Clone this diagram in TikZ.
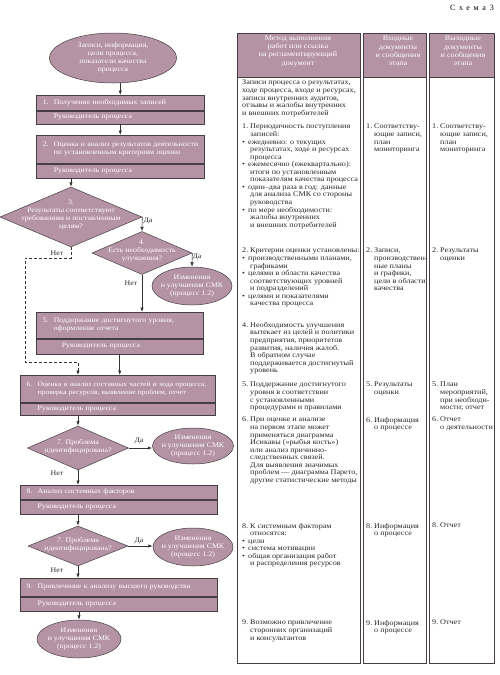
\documentclass[tikz,border=0pt]{standalone}
\usepackage{fontspec}
\setmainfont{Liberation Serif}[FakeStretch=1.12]
\newfontfamily\tabfont{Liberation Serif}[FakeStretch=1.13]
\newfontfamily\schemefont{Liberation Serif}[LetterSpace=45]
\usetikzlibrary{arrows.meta,shapes.geometric}
\definecolor{mauve}{RGB}{179,147,164}
\definecolor{edge}{RGB}{70,62,68}
\newcommand{\nr}[1]{\makebox[8pt][l]{#1}}
\newcommand{\sn}[1]{\hspace*{4.5pt}\makebox[11pt][l]{#1}}
\newcommand{\hg}{\hspace*{8pt}}
\newcommand{\bl}{\makebox[6pt][l]{\textbullet}}
\tikzset{
	every node/.style={font=\fontsize{7}{7.9}\selectfont,inner sep=0pt},
	stage/.style={draw=edge,fill=mauve,text=white,align=left,anchor=north west,inner xsep=2pt,line width=.5pt},
	oval/.style={draw=edge,fill=mauve,text=white,ellipse,align=center,inner xsep=-6pt,line width=.5pt},
	decision/.style={draw=edge,fill=mauve,diamond,line width=.5pt},
	query/.style={text=white,align=center},
	answer/.style={text=black!85},
	headtext/.style={text=white,align=center,font=\tabfont\fontsize{7.2}{8.3}\selectfont},
	note/.style={align=left,anchor=north west,text=black!85,font=\tabfont\fontsize{7.2}{7.55}\selectfont},
	cell/.style={draw=edge,line width=.5pt},
	flow/.style={draw=black!80,line width=.6pt,-{Latex[length=4.5pt,width=3.4pt]}},
}
\begin{document}
\begin{tikzpicture}[x=1pt,y=-1pt]
	\useasboundingbox (0,0) rectangle (500,675);
	\node[anchor=base east,font=\schemefont\fontsize{8}{9}\selectfont] (title) at (494,10) {Схема\enspace 3};
	% flowchart
	\node[oval,inner xsep=0pt,minimum width=127,minimum height=50] (inp) at (113,58) {Записи, информация,\\цели процесса,\\показатели качества\\процесса};
	\node[stage,text width=164,minimum height=15] (s1) at (36,95) {\sn{1.}Получение необходимых записей};
	\node[stage,text width=164,minimum height=13] (r1) at (s1.south west) {\sn{}Руководитель процесса};
	\node[stage,text width=164,minimum height=28] (s2) at (36,135) {\sn{2.}Оценка и анализ результатов деятельности\\\sn{}по установленным критериям оценки};
	\node[stage,text width=164,minimum height=14] (r2) at (s2.south west) {\sn{}Руководитель процесса};
	\node[decision,minimum width=142,minimum height=60] (d3) at (71,217) {};
	\node[query] (q3) at (71,215) {3.\\Результаты соответствуют\\требованиям и поставленным\\целям?};
	\node[decision,minimum width=100,minimum height=43] (d4) at (142,253) {};
	\node[query] (q4) at (142,251) {4.\\Есть необходимость\\улучшения?};
	\node[oval,minimum width=80,minimum height=38] (cmk4) at (192,286) {Изменения\\и улучшения СМК\\(процесс 1.2)};
	\node[stage,text width=163,minimum height=26] (s5) at (36,312) {\sn{5.}Поддержание достигнутого уровня,\\\sn{}оформление отчета};
	\node[stage,text width=163,minimum height=15] (r5) at (s5.south west) {\sn{}\hspace*{8pt}Руководитель процесса};
	\node[stage,text width=191,minimum height=27,font=\fontsize{6.7}{7.9}\selectfont] (s6) at (20,375) {\sn{6.}\mbox{Оценка и анализ составных частей и хода процесса,}\\\sn{}проверка ресурсов, выявление проблем, отчет};
	\node[stage,text width=191,minimum height=12] (r6) at (s6.south west) {\sn{}Руководитель процесса};
	\node[decision,minimum width=101,minimum height=44] (d7) at (78,448) {};
	\node[query] (q7) at (78,447) {7. Проблема\\идентифицирована?};
	\node[oval,minimum width=81,minimum height=36] (cmk7) at (193,446) {Изменения\\и улучшения СМК\\(процесс 1.2)};
	\node[stage,text width=193,minimum height=14] (s8) at (20,485) {\sn{8.}Анализ системных факторов};
	\node[stage,text width=193,minimum height=14] (r8) at (s8.south west) {\sn{}Руководитель процесса};
	\node[decision,minimum width=100,minimum height=40] (d8) at (78,546) {};
	\node[query] (q8) at (78,545) {7. Проблема\\идентифицирована?};
	\node[oval,minimum width=80,minimum height=38] (cmk8) at (193,547) {Изменения\\и улучшения СМК\\(процесс 1.2)};
	\node[stage,text width=193,minimum height=18] (s9) at (20,578) {\sn{9.}Привлечение к анализу высшего руководства};
	\node[stage,text width=193,minimum height=14] (r9) at (s9.south west) {\sn{}Руководитель процесса};
	\node[oval,minimum width=84,minimum height=38] (cmk9) at (79,639) {Изменения\\и улучшения СМК\\(процесс 1.2)};
	\foreach \n/\x/\y/\t in {yes3/148/221/Да,no3/57/253/Нет,yes4/197/257/Да,no4/131/283/Нет,yes7/139/441/Да,no7/57/473/Нет,yes8/139/541/Да,no8/57/570/Нет}
		\node[answer] (\n) at (\x,\y) {\t};
	\coordinate (bend1) at (25,258);
	\coordinate (bend2) at (78,362);
	\draw[flow] (s1.north |- inp.south) -- (s1.north);
	\draw[flow] (r1.south) -- (s2.north);
	\draw[flow] (r2.south -| d3.north) -- (d3.north);
	\draw[flow] (d3.east) -- (d4.north);
	\draw[flow] (d4.east) -- (cmk4.north);
	\draw[flow] (d4.south) -- (d4.south |- s5.north);
	\draw[flow,densely dashed] (d3.south) |- (bend1) |- (bend2) -- (bend2 |- s6.north);
	\draw[flow] (r5.south) -- (r5.south |- s6.north);
	\draw[flow] (r6.south -| d7.north) -- (d7.north);
	\draw[flow] (d7.east) -- (cmk7.west |- d7.east);
	\draw[flow] (d7.south) -- (d7.south |- s8.north);
	\draw[flow] (r8.south -| d8.north) -- (d8.north);
	\draw[flow] (d8.east) -- (cmk8.west |- d8.east);
	\draw[flow] (d8.south) -- (d8.south |- s9.north);
	\draw[flow] (r9.south -| cmk9.north) -- (cmk9.north);
	% table
	\foreach \xa/\xb in {237/360,363/426,429/494} {
		\draw[cell,fill=mauve] (\xa,33) rectangle (\xb,77);
		\draw[cell] (\xa,77) rectangle (\xb,663);
	}
	\node[headtext] (ht1) at (298,51) {Метод выполнения\\работ или ссылка\\на регламентирующий\\документ};
	\node[headtext] (ht2) at (398,51) {Входные\\документы\\и сообщения\\этапа};
	\node[headtext] (ht3) at (463,51) {Выходные\\документы\\и сообщения\\этапа};
	\node[note] (meth0) at (242,80) {Записи процесса о результатах,\\ходе процесса, входе и ресурсах,\\записи внутренних аудитов,\\отзывы и жалобы внутренних\\и внешних потребителей};
	\node[note] (meth1) at (242,124) {\nr{1.}Периодичность поступления\\\hg записей:\\\bl ежедневно: о текущих\\\hg результатах, ходе и ресурсах\\\hg процесса\\\bl ежемесячно (ежеквартально):\\\hg итоги по установленным\\\hg показателям качества процесса\\\bl один–два раза в год: данные\\\hg для анализа СМК со стороны\\\hg руководства\\\bl по мере необходимости:\\\hg жалобы внутренних\\\hg и внешних потребителей};
	\node[note] (meth2) at (242,248) {\nr{2.}Критерии оценки установлены:\\\bl производственными планами,\\\hg графиками\\\bl целями в области качества\\\hg соответствующих уровней\\\hg и подразделений\\\bl целями и показателями\\\hg качества процесса};
	\node[note] (meth4) at (242,322) {\nr{4.}Необходимость улучшения\\\hg вытекает из целей и политики\\\hg предприятия, приоритетов\\\hg развития, наличия жалоб.\\\hg В обратном случае\\\hg поддерживается достигнутый\\\hg уровень};
	\node[note] (meth5) at (242,382) {\nr{5.}Поддержание достигнутого\\\hg уровня в соответствии\\\hg с установленными\\\hg процедурами и правилами};
	\node[note] (meth6) at (242,417) {\nr{6.}При оценке и анализе\\\hg на первом этапе может\\\hg применяться диаграмма\\\hg Исикавы («рыбья кость»)\\\hg или анализ причинно-\\\hg следственных связей.\\\hg Для выявления значимых\\\hg проблем — диаграмма Парето,\\\hg другие статистические методы};
	\node[note] (meth8) at (242,523) {\nr{8.}К системным факторам\\\hg относятся:\\\bl цели\\\bl система мотивации\\\bl общая организация работ\\\hg и распределения ресурсов};
	\node[note] (meth9) at (242,620) {\nr{9.}Возможно привлечение\\\hg сторонних организаций\\\hg и консультантов};
	\node[note] (indoc1) at (366,124) {\nr{1.}Соответству-\\\hg ющие записи,\\\hg план\\\hg мониторинга};
	\node[note] (indoc2) at (366,248) {\nr{2.}Записи,\\\hg производствен-\\\hg ные планы\\\hg и графики,\\\hg цели в области\\\hg качества};
	\node[note] (indoc5) at (366,382) {\nr{5.}Результаты\\\hg оценки};
	\node[note] (indoc6) at (366,417) {\nr{6.}Информация\\\hg о процессе};
	\node[note] (indoc8) at (366,523) {\nr{8.}Информация\\\hg о процессе};
	\node[note] (indoc9) at (366,620) {\nr{9.}Информация\\\hg о процессе};
	\node[note] (outdoc1) at (432,124) {\nr{1.}Соответству-\\\hg ющие записи,\\\hg план\\\hg мониторинга};
	\node[note] (outdoc2) at (432,248) {\nr{2.}Результаты\\\hg оценки};
	\node[note] (outdoc5) at (432,382) {\nr{5.}План\\\hg мероприятий,\\\hg при необходи-\\\hg мости; отчет};
	\node[note] (outdoc6) at (432,417) {\nr{6.}Отчет\\\hg о деятельности};
	\node[note] (outdoc8) at (432,523) {\nr{8.}Отчет};
	\node[note] (outdoc9) at (432,620) {\nr{9.}Отчет};
\end{tikzpicture}
\end{document}
